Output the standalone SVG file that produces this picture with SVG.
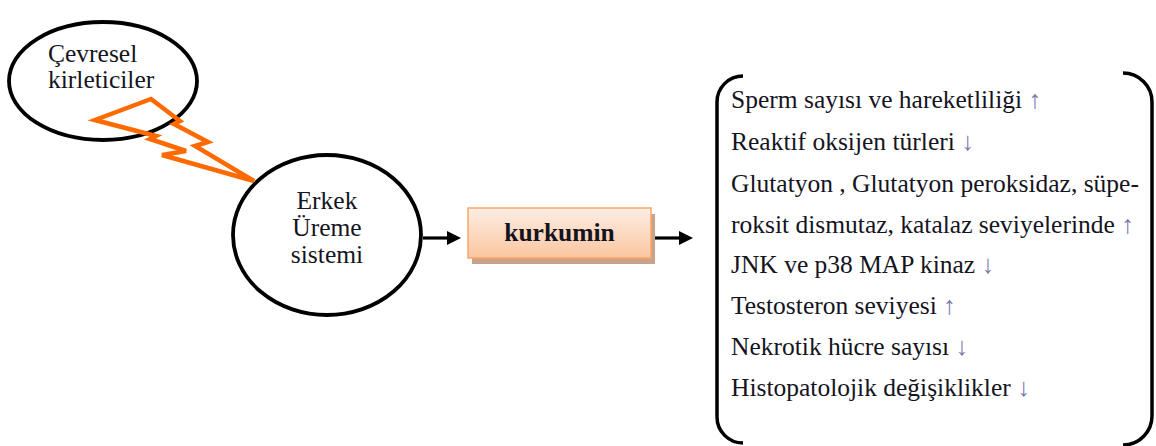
<svg xmlns="http://www.w3.org/2000/svg" width="1156" height="446" viewBox="0 0 1156 446">
<defs>
<style>
.t{font-family:"Liberation Serif","Times New Roman",serif;font-size:25.5px;fill:#14141e}
.m{text-anchor:middle}
.ar{fill:#7a78b0}
.ell{fill:#fff;stroke:#000;stroke-width:3.8}
.cn{stroke:#000;stroke-width:3.2;fill:none}
.hd{fill:#000}
</style>
<linearGradient id="g" x1="0" y1="0" x2="0" y2="1">
<stop offset="0" stop-color="#fdeee4"/>
<stop offset="1" stop-color="#fbc6a0"/>
</linearGradient>
</defs>
<rect width="1156" height="446" fill="#fff"/>
<g id="cevresel">
<ellipse class="ell" cx="103" cy="81" rx="94" ry="59"/>
<text class="t" x="48" y="62">Çevresel</text>
<text class="t" x="48" y="88">kirleticiler</text>
</g>
<g id="bolt">
<polygon points="95,120 151,99 180,121 174,124 208,142 195,146 254,181 162,155 186,151 150,139 156,136" fill="none" stroke="#ff6a00" stroke-width="4.5" stroke-linejoin="miter"/>
</g>
<g id="erkek">
<ellipse class="ell" cx="327" cy="235" rx="94" ry="80"/>
<text class="t m" x="327" y="209">Erkek</text>
<text class="t m" x="327" y="236">Üreme</text>
<text class="t m" x="327" y="263">sistemi</text>
</g>
<g id="kurkumin">
<rect x="472" y="214" width="183" height="50" fill="#c9a28a"/>
<rect x="468" y="208" width="183" height="50" fill="url(#g)" stroke="#f8a56c" stroke-width="1.5"/>
<text class="t m" x="559.5" y="241" font-weight="bold">kurkumin</text>
</g>
<g id="connectors">
<line class="cn" x1="423" y1="238" x2="449" y2="238"/>
<polygon class="hd" points="461,238 447,231 447,245"/>
<line class="cn" x1="655" y1="238" x2="681" y2="238"/>
<polygon class="hd" points="693,238 679,231 679,245"/>
</g>
<g id="effects">
<path d="M743 76 A26 26 0 0 0 717 102 L717 417 A26 26 0 0 0 743 443" fill="none" stroke="#000" stroke-width="3.5"/>
<path d="M1123 73 A29 29 0 0 1 1152 102 L1152 416 A29 29 0 0 1 1123 445" fill="none" stroke="#000" stroke-width="3.5"/>
<text class="t" x="731" y="108">Sperm sayısı ve hareketliliği <tspan class="ar">↑</tspan></text>
<text class="t" x="731" y="150">Reaktif oksijen türleri <tspan class="ar">↓</tspan></text>
<text class="t" x="731" y="192">Glutatyon , Glutatyon peroksidaz, süpe-</text>
<text class="t" x="731" y="233">roksit dismutaz, katalaz seviyelerinde <tspan class="ar">↑</tspan></text>
<text class="t" x="731" y="273">JNK ve p38 MAP kinaz <tspan class="ar">↓</tspan></text>
<text class="t" x="731" y="314">Testosteron seviyesi <tspan class="ar">↑</tspan></text>
<text class="t" x="731" y="355">Nekrotik hücre sayısı <tspan class="ar">↓</tspan></text>
<text class="t" x="731" y="396">Histopatolojik değişiklikler <tspan class="ar">↓</tspan></text>
</g>
</svg>
